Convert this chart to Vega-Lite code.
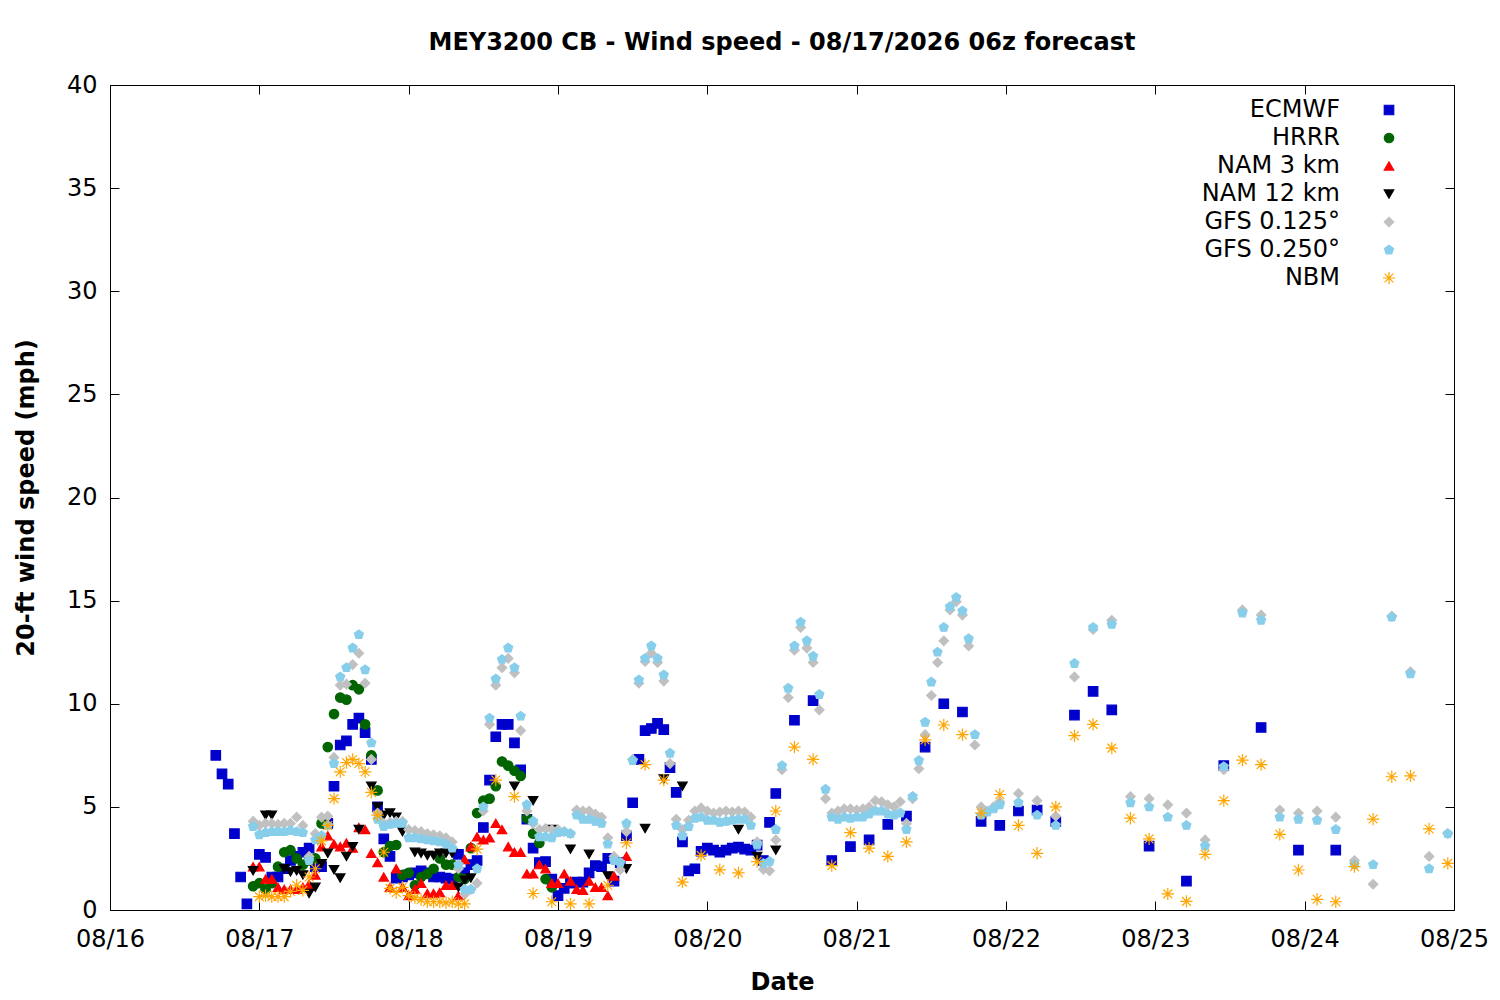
{
  "$schema": "https://vega.github.io/schema/vega-lite/v6.json",
  "width": 1344,
  "height": 825,
  "autosize": {"type": "none"},
  "padding": {"left": 110, "top": 85, "right": 46, "bottom": 90},
  "background": "white",
  "title": {
    "text": "MEY3200 CB - Wind speed - 08/17/2026 06z forecast",
    "font": "DejaVu Sans", "fontSize": 24, "fontWeight": "bold", "color": "black",
    "anchor": "middle", "offset": 18
  },
  "data": {"values": [
    {"m":"ECMWF","h":17,"v":7.5},{"m":"ECMWF","h":18,"v":6.6},{"m":"ECMWF","h":19,"v":6.1},{"m":"ECMWF","h":20,"v":3.7},
    {"m":"ECMWF","h":21,"v":1.6},{"m":"ECMWF","h":22,"v":0.3},{"m":"ECMWF","h":24,"v":2.7},{"m":"ECMWF","h":25,"v":2.55},
    {"m":"ECMWF","h":26,"v":1.6},{"m":"ECMWF","h":27,"v":1.6},{"m":"ECMWF","h":28,"v":2.0},{"m":"ECMWF","h":29,"v":2.4},
    {"m":"ECMWF","h":30,"v":2.6},{"m":"ECMWF","h":31,"v":2.8},{"m":"ECMWF","h":32,"v":3.0},{"m":"ECMWF","h":33,"v":2.1},
    {"m":"ECMWF","h":34,"v":2.1},{"m":"ECMWF","h":35,"v":4.2},{"m":"ECMWF","h":36,"v":6.0},{"m":"ECMWF","h":37,"v":8.0},
    {"m":"ECMWF","h":38,"v":8.2},{"m":"ECMWF","h":39,"v":9.0},{"m":"ECMWF","h":40,"v":9.3},{"m":"ECMWF","h":41,"v":8.6},
    {"m":"ECMWF","h":42,"v":7.3},{"m":"ECMWF","h":43,"v":5.0},{"m":"ECMWF","h":44,"v":3.45},{"m":"ECMWF","h":45,"v":2.6},
    {"m":"ECMWF","h":46,"v":1.55},{"m":"ECMWF","h":47,"v":1.6},{"m":"ECMWF","h":48,"v":1.7},{"m":"ECMWF","h":49,"v":1.8},
    {"m":"ECMWF","h":50,"v":1.9},{"m":"ECMWF","h":51,"v":1.8},{"m":"ECMWF","h":52,"v":1.6},{"m":"ECMWF","h":53,"v":1.6},
    {"m":"ECMWF","h":54,"v":1.55},{"m":"ECMWF","h":55,"v":1.5},{"m":"ECMWF","h":56,"v":2.7},{"m":"ECMWF","h":57,"v":1.8},
    {"m":"ECMWF","h":58,"v":2.2},{"m":"ECMWF","h":59,"v":2.4},{"m":"ECMWF","h":60,"v":4.0},{"m":"ECMWF","h":61,"v":6.3},
    {"m":"ECMWF","h":62,"v":8.4},{"m":"ECMWF","h":63,"v":9.0},{"m":"ECMWF","h":64,"v":9.0},{"m":"ECMWF","h":65,"v":8.1},
    {"m":"ECMWF","h":66,"v":6.8},{"m":"ECMWF","h":67,"v":4.4},{"m":"ECMWF","h":68,"v":3.0},{"m":"ECMWF","h":69,"v":2.3},
    {"m":"ECMWF","h":70,"v":2.35},{"m":"ECMWF","h":71,"v":1.5},{"m":"ECMWF","h":72,"v":0.7},{"m":"ECMWF","h":73,"v":1.05},
    {"m":"ECMWF","h":74,"v":1.3},{"m":"ECMWF","h":75,"v":1.35},{"m":"ECMWF","h":76,"v":1.35},{"m":"ECMWF","h":77,"v":1.8},
    {"m":"ECMWF","h":78,"v":2.15},{"m":"ECMWF","h":79,"v":2.1},{"m":"ECMWF","h":80,"v":2.5},{"m":"ECMWF","h":81,"v":1.4},
    {"m":"ECMWF","h":82,"v":2.3},{"m":"ECMWF","h":83,"v":3.6},{"m":"ECMWF","h":84,"v":5.2},{"m":"ECMWF","h":85,"v":7.3},
    {"m":"ECMWF","h":86,"v":8.7},{"m":"ECMWF","h":87,"v":8.8},{"m":"ECMWF","h":88,"v":9.05},{"m":"ECMWF","h":89,"v":8.75},
    {"m":"ECMWF","h":90,"v":6.9},{"m":"ECMWF","h":91,"v":5.7},{"m":"ECMWF","h":92,"v":3.3},{"m":"ECMWF","h":93,"v":1.9},
    {"m":"ECMWF","h":94,"v":2.0},{"m":"ECMWF","h":95,"v":2.85},{"m":"ECMWF","h":96,"v":3.0},{"m":"ECMWF","h":97,"v":2.9},
    {"m":"ECMWF","h":98,"v":2.8},{"m":"ECMWF","h":99,"v":2.9},{"m":"ECMWF","h":100,"v":3.0},{"m":"ECMWF","h":101,"v":3.05},
    {"m":"ECMWF","h":102,"v":2.95},{"m":"ECMWF","h":103,"v":2.9},{"m":"ECMWF","h":104,"v":3.15},{"m":"ECMWF","h":105,"v":2.4},
    {"m":"ECMWF","h":106,"v":4.25},{"m":"ECMWF","h":107,"v":5.65},{"m":"ECMWF","h":110,"v":9.2},{"m":"ECMWF","h":113,"v":10.15},
    {"m":"ECMWF","h":116,"v":2.4},{"m":"ECMWF","h":119,"v":3.07},{"m":"ECMWF","h":122,"v":3.4},{"m":"ECMWF","h":125,"v":4.15},
    {"m":"ECMWF","h":128,"v":4.55},{"m":"ECMWF","h":131,"v":7.9},{"m":"ECMWF","h":134,"v":10.0},{"m":"ECMWF","h":137,"v":9.6},
    {"m":"ECMWF","h":140,"v":4.3},{"m":"ECMWF","h":143,"v":4.1},{"m":"ECMWF","h":146,"v":4.8},{"m":"ECMWF","h":149,"v":4.85},
    {"m":"ECMWF","h":152,"v":4.3},{"m":"ECMWF","h":155,"v":9.45},{"m":"ECMWF","h":158,"v":10.6},{"m":"ECMWF","h":161,"v":9.7},
    {"m":"ECMWF","h":167,"v":3.1},{"m":"ECMWF","h":173,"v":1.4},{"m":"ECMWF","h":179,"v":7.0},{"m":"ECMWF","h":185,"v":8.85},
    {"m":"ECMWF","h":191,"v":2.9},{"m":"ECMWF","h":197,"v":2.9},

    {"m":"HRRR","h":23,"v":1.15},{"m":"HRRR","h":24,"v":1.3},{"m":"HRRR","h":25,"v":1.0},{"m":"HRRR","h":26,"v":1.3},
    {"m":"HRRR","h":27,"v":2.1},{"m":"HRRR","h":28,"v":2.8},{"m":"HRRR","h":29,"v":2.9},{"m":"HRRR","h":30,"v":2.5},
    {"m":"HRRR","h":31,"v":2.2},{"m":"HRRR","h":32,"v":2.4},{"m":"HRRR","h":33,"v":2.5},{"m":"HRRR","h":34,"v":4.2},
    {"m":"HRRR","h":35,"v":7.9},{"m":"HRRR","h":36,"v":9.5},{"m":"HRRR","h":37,"v":10.3},{"m":"HRRR","h":38,"v":10.2},
    {"m":"HRRR","h":39,"v":10.9},{"m":"HRRR","h":40,"v":10.7},{"m":"HRRR","h":41,"v":9.0},{"m":"HRRR","h":42,"v":7.5},
    {"m":"HRRR","h":43,"v":5.8},{"m":"HRRR","h":44,"v":2.8},{"m":"HRRR","h":45,"v":3.1},{"m":"HRRR","h":46,"v":3.15},
    {"m":"HRRR","h":47,"v":1.7},{"m":"HRRR","h":48,"v":1.8},{"m":"HRRR","h":49,"v":1.2},{"m":"HRRR","h":50,"v":1.6},
    {"m":"HRRR","h":51,"v":1.75},{"m":"HRRR","h":52,"v":2.0},{"m":"HRRR","h":53,"v":2.5},{"m":"HRRR","h":54,"v":2.2},
    {"m":"HRRR","h":55,"v":2.2},{"m":"HRRR","h":56,"v":1.6},{"m":"HRRR","h":57,"v":1.5},{"m":"HRRR","h":58,"v":3.0},
    {"m":"HRRR","h":59,"v":4.7},{"m":"HRRR","h":60,"v":5.3},{"m":"HRRR","h":61,"v":5.4},{"m":"HRRR","h":62,"v":6.0},
    {"m":"HRRR","h":63,"v":7.2},{"m":"HRRR","h":64,"v":7.0},{"m":"HRRR","h":65,"v":6.75},{"m":"HRRR","h":66,"v":6.5},
    {"m":"HRRR","h":67,"v":4.45},{"m":"HRRR","h":68,"v":3.7},{"m":"HRRR","h":69,"v":3.25},{"m":"HRRR","h":70,"v":1.5},
    {"m":"HRRR","h":71,"v":1.1},

    {"m":"NAM 3 km","h":23,"v":2.1},{"m":"NAM 3 km","h":24,"v":2.1},{"m":"NAM 3 km","h":25,"v":1.5},{"m":"NAM 3 km","h":26,"v":1.5},
    {"m":"NAM 3 km","h":27,"v":1.1},{"m":"NAM 3 km","h":28,"v":1.0},{"m":"NAM 3 km","h":29,"v":1.0},{"m":"NAM 3 km","h":30,"v":1.0},
    {"m":"NAM 3 km","h":31,"v":1.1},{"m":"NAM 3 km","h":32,"v":1.25},{"m":"NAM 3 km","h":33,"v":1.7},{"m":"NAM 3 km","h":34,"v":3.07},
    {"m":"NAM 3 km","h":35,"v":3.6},{"m":"NAM 3 km","h":36,"v":3.2},{"m":"NAM 3 km","h":37,"v":3.07},{"m":"NAM 3 km","h":38,"v":3.25},
    {"m":"NAM 3 km","h":39,"v":3.0},{"m":"NAM 3 km","h":40,"v":4.0},{"m":"NAM 3 km","h":41,"v":3.9},{"m":"NAM 3 km","h":42,"v":2.75},
    {"m":"NAM 3 km","h":43,"v":2.3},{"m":"NAM 3 km","h":44,"v":1.6},{"m":"NAM 3 km","h":45,"v":1.1},{"m":"NAM 3 km","h":46,"v":2.0},
    {"m":"NAM 3 km","h":47,"v":1.1},{"m":"NAM 3 km","h":48,"v":0.7},{"m":"NAM 3 km","h":49,"v":1.0},{"m":"NAM 3 km","h":50,"v":1.3},
    {"m":"NAM 3 km","h":51,"v":0.8},{"m":"NAM 3 km","h":52,"v":0.8},{"m":"NAM 3 km","h":53,"v":0.85},{"m":"NAM 3 km","h":54,"v":1.2},
    {"m":"NAM 3 km","h":55,"v":1.2},{"m":"NAM 3 km","h":56,"v":0.7},{"m":"NAM 3 km","h":57,"v":2.45},{"m":"NAM 3 km","h":58,"v":3.07},
    {"m":"NAM 3 km","h":59,"v":3.55},{"m":"NAM 3 km","h":60,"v":3.4},{"m":"NAM 3 km","h":61,"v":3.5},{"m":"NAM 3 km","h":62,"v":4.2},
    {"m":"NAM 3 km","h":63,"v":3.9},{"m":"NAM 3 km","h":64,"v":3.07},{"m":"NAM 3 km","h":65,"v":2.8},{"m":"NAM 3 km","h":66,"v":2.8},
    {"m":"NAM 3 km","h":67,"v":1.75},{"m":"NAM 3 km","h":68,"v":1.75},{"m":"NAM 3 km","h":69,"v":2.2},{"m":"NAM 3 km","h":70,"v":2.0},
    {"m":"NAM 3 km","h":71,"v":1.3},{"m":"NAM 3 km","h":72,"v":1.3},{"m":"NAM 3 km","h":73,"v":1.75},{"m":"NAM 3 km","h":74,"v":1.4},
    {"m":"NAM 3 km","h":75,"v":1.0},{"m":"NAM 3 km","h":76,"v":0.95},{"m":"NAM 3 km","h":77,"v":1.4},{"m":"NAM 3 km","h":78,"v":1.1},
    {"m":"NAM 3 km","h":79,"v":1.1},{"m":"NAM 3 km","h":80,"v":0.7},{"m":"NAM 3 km","h":81,"v":1.65},{"m":"NAM 3 km","h":83,"v":2.6},

    {"m":"NAM 12 km","h":23,"v":1.9},{"m":"NAM 12 km","h":25,"v":4.6},{"m":"NAM 12 km","h":26,"v":4.6},{"m":"NAM 12 km","h":28,"v":2.0},
    {"m":"NAM 12 km","h":29,"v":1.85},{"m":"NAM 12 km","h":30,"v":1.9},{"m":"NAM 12 km","h":31,"v":1.7},{"m":"NAM 12 km","h":32,"v":0.8},
    {"m":"NAM 12 km","h":33,"v":1.1},{"m":"NAM 12 km","h":34,"v":2.25},{"m":"NAM 12 km","h":35,"v":2.75},{"m":"NAM 12 km","h":36,"v":1.95},
    {"m":"NAM 12 km","h":37,"v":1.55},{"m":"NAM 12 km","h":38,"v":2.6},{"m":"NAM 12 km","h":39,"v":3.07},{"m":"NAM 12 km","h":40,"v":3.9},
    {"m":"NAM 12 km","h":42,"v":6.0},{"m":"NAM 12 km","h":43,"v":5.0},{"m":"NAM 12 km","h":44,"v":4.6},{"m":"NAM 12 km","h":45,"v":4.7},
    {"m":"NAM 12 km","h":46,"v":4.5},{"m":"NAM 12 km","h":47,"v":3.8},{"m":"NAM 12 km","h":49,"v":2.8},{"m":"NAM 12 km","h":50,"v":2.75},
    {"m":"NAM 12 km","h":51,"v":2.65},{"m":"NAM 12 km","h":52,"v":2.65},{"m":"NAM 12 km","h":53,"v":2.75},{"m":"NAM 12 km","h":54,"v":2.75},
    {"m":"NAM 12 km","h":55,"v":2.75},{"m":"NAM 12 km","h":56,"v":1.1},{"m":"NAM 12 km","h":57,"v":1.45},{"m":"NAM 12 km","h":58,"v":1.55},
    {"m":"NAM 12 km","h":65,"v":6.0},{"m":"NAM 12 km","h":68,"v":5.3},{"m":"NAM 12 km","h":71,"v":3.9},{"m":"NAM 12 km","h":74,"v":2.95},
    {"m":"NAM 12 km","h":77,"v":2.7},{"m":"NAM 12 km","h":80,"v":1.65},{"m":"NAM 12 km","h":83,"v":2.0},{"m":"NAM 12 km","h":86,"v":3.95},
    {"m":"NAM 12 km","h":89,"v":6.35},{"m":"NAM 12 km","h":92,"v":6.0},{"m":"NAM 12 km","h":101,"v":3.9},{"m":"NAM 12 km","h":104,"v":2.6},
    {"m":"NAM 12 km","h":107,"v":2.9},

    {"m":"GFS 0.125°","h":23,"v":4.3},{"m":"GFS 0.125°","h":24,"v":4.1},{"m":"GFS 0.125°","h":25,"v":4.2},{"m":"GFS 0.125°","h":26,"v":4.2},
    {"m":"GFS 0.125°","h":27,"v":4.15},{"m":"GFS 0.125°","h":28,"v":4.2},{"m":"GFS 0.125°","h":29,"v":4.2},{"m":"GFS 0.125°","h":30,"v":4.5},
    {"m":"GFS 0.125°","h":31,"v":4.1},{"m":"GFS 0.125°","h":32,"v":2.6},{"m":"GFS 0.125°","h":33,"v":3.7},{"m":"GFS 0.125°","h":34,"v":4.5},
    {"m":"GFS 0.125°","h":35,"v":4.55},{"m":"GFS 0.125°","h":36,"v":7.4},{"m":"GFS 0.125°","h":37,"v":10.9},{"m":"GFS 0.125°","h":38,"v":10.95},
    {"m":"GFS 0.125°","h":39,"v":11.9},{"m":"GFS 0.125°","h":40,"v":12.45},{"m":"GFS 0.125°","h":41,"v":11.0},{"m":"GFS 0.125°","h":42,"v":7.3},
    {"m":"GFS 0.125°","h":43,"v":4.7},{"m":"GFS 0.125°","h":44,"v":4.2},{"m":"GFS 0.125°","h":45,"v":4.25},{"m":"GFS 0.125°","h":46,"v":4.3},
    {"m":"GFS 0.125°","h":47,"v":4.3},{"m":"GFS 0.125°","h":48,"v":3.9},{"m":"GFS 0.125°","h":49,"v":3.85},{"m":"GFS 0.125°","h":50,"v":3.8},
    {"m":"GFS 0.125°","h":51,"v":3.7},{"m":"GFS 0.125°","h":52,"v":3.65},{"m":"GFS 0.125°","h":53,"v":3.6},{"m":"GFS 0.125°","h":54,"v":3.5},
    {"m":"GFS 0.125°","h":55,"v":3.3},{"m":"GFS 0.125°","h":56,"v":2.0},{"m":"GFS 0.125°","h":57,"v":0.75},{"m":"GFS 0.125°","h":58,"v":1.0},
    {"m":"GFS 0.125°","h":59,"v":1.3},{"m":"GFS 0.125°","h":60,"v":4.8},{"m":"GFS 0.125°","h":61,"v":9.0},{"m":"GFS 0.125°","h":62,"v":10.9},
    {"m":"GFS 0.125°","h":63,"v":11.75},{"m":"GFS 0.125°","h":64,"v":12.2},{"m":"GFS 0.125°","h":65,"v":11.5},{"m":"GFS 0.125°","h":66,"v":8.7},
    {"m":"GFS 0.125°","h":67,"v":4.8},{"m":"GFS 0.125°","h":68,"v":4.2},{"m":"GFS 0.125°","h":69,"v":3.9},{"m":"GFS 0.125°","h":70,"v":3.95},
    {"m":"GFS 0.125°","h":71,"v":3.9},{"m":"GFS 0.125°","h":72,"v":3.9},{"m":"GFS 0.125°","h":73,"v":3.8},{"m":"GFS 0.125°","h":74,"v":3.7},
    {"m":"GFS 0.125°","h":75,"v":4.85},{"m":"GFS 0.125°","h":76,"v":4.8},{"m":"GFS 0.125°","h":77,"v":4.8},{"m":"GFS 0.125°","h":78,"v":4.65},
    {"m":"GFS 0.125°","h":79,"v":4.5},{"m":"GFS 0.125°","h":80,"v":3.5},{"m":"GFS 0.125°","h":81,"v":2.6},{"m":"GFS 0.125°","h":82,"v":1.95},
    {"m":"GFS 0.125°","h":83,"v":3.8},{"m":"GFS 0.125°","h":84,"v":7.3},{"m":"GFS 0.125°","h":85,"v":11.0},{"m":"GFS 0.125°","h":86,"v":12.05},
    {"m":"GFS 0.125°","h":87,"v":12.45},{"m":"GFS 0.125°","h":88,"v":12.0},{"m":"GFS 0.125°","h":89,"v":11.1},{"m":"GFS 0.125°","h":90,"v":7.1},
    {"m":"GFS 0.125°","h":91,"v":4.4},{"m":"GFS 0.125°","h":92,"v":3.9},{"m":"GFS 0.125°","h":93,"v":4.35},{"m":"GFS 0.125°","h":94,"v":4.8},
    {"m":"GFS 0.125°","h":95,"v":4.95},{"m":"GFS 0.125°","h":96,"v":4.8},{"m":"GFS 0.125°","h":97,"v":4.7},{"m":"GFS 0.125°","h":98,"v":4.75},
    {"m":"GFS 0.125°","h":99,"v":4.8},{"m":"GFS 0.125°","h":100,"v":4.75},{"m":"GFS 0.125°","h":101,"v":4.8},{"m":"GFS 0.125°","h":102,"v":4.75},
    {"m":"GFS 0.125°","h":103,"v":4.5},{"m":"GFS 0.125°","h":104,"v":3.3},{"m":"GFS 0.125°","h":105,"v":1.97},{"m":"GFS 0.125°","h":106,"v":1.9},
    {"m":"GFS 0.125°","h":107,"v":3.4},{"m":"GFS 0.125°","h":108,"v":6.8},{"m":"GFS 0.125°","h":109,"v":10.3},{"m":"GFS 0.125°","h":110,"v":12.6},
    {"m":"GFS 0.125°","h":111,"v":13.7},{"m":"GFS 0.125°","h":112,"v":12.7},{"m":"GFS 0.125°","h":113,"v":12.0},{"m":"GFS 0.125°","h":114,"v":9.7},
    {"m":"GFS 0.125°","h":115,"v":5.4},{"m":"GFS 0.125°","h":116,"v":4.7},{"m":"GFS 0.125°","h":117,"v":4.8},{"m":"GFS 0.125°","h":118,"v":4.9},
    {"m":"GFS 0.125°","h":119,"v":4.9},{"m":"GFS 0.125°","h":120,"v":4.85},{"m":"GFS 0.125°","h":121,"v":4.9},{"m":"GFS 0.125°","h":122,"v":5.0},
    {"m":"GFS 0.125°","h":123,"v":5.3},{"m":"GFS 0.125°","h":124,"v":5.25},{"m":"GFS 0.125°","h":125,"v":5.1},{"m":"GFS 0.125°","h":126,"v":5.0},
    {"m":"GFS 0.125°","h":127,"v":5.25},{"m":"GFS 0.125°","h":128,"v":4.2},{"m":"GFS 0.125°","h":129,"v":5.4},{"m":"GFS 0.125°","h":130,"v":6.85},
    {"m":"GFS 0.125°","h":131,"v":8.5},{"m":"GFS 0.125°","h":132,"v":10.4},{"m":"GFS 0.125°","h":133,"v":12.0},{"m":"GFS 0.125°","h":134,"v":13.05},
    {"m":"GFS 0.125°","h":135,"v":14.55},{"m":"GFS 0.125°","h":136,"v":14.95},{"m":"GFS 0.125°","h":137,"v":14.3},{"m":"GFS 0.125°","h":138,"v":12.8},
    {"m":"GFS 0.125°","h":139,"v":8.0},{"m":"GFS 0.125°","h":140,"v":5.0},{"m":"GFS 0.125°","h":141,"v":4.8},{"m":"GFS 0.125°","h":142,"v":5.0},
    {"m":"GFS 0.125°","h":143,"v":5.25},{"m":"GFS 0.125°","h":146,"v":5.65},{"m":"GFS 0.125°","h":149,"v":5.3},{"m":"GFS 0.125°","h":152,"v":4.55},
    {"m":"GFS 0.125°","h":155,"v":11.3},{"m":"GFS 0.125°","h":158,"v":13.6},{"m":"GFS 0.125°","h":161,"v":14.05},{"m":"GFS 0.125°","h":164,"v":5.5},
    {"m":"GFS 0.125°","h":167,"v":5.4},{"m":"GFS 0.125°","h":170,"v":5.1},{"m":"GFS 0.125°","h":173,"v":4.7},{"m":"GFS 0.125°","h":176,"v":3.4},
    {"m":"GFS 0.125°","h":179,"v":6.8},{"m":"GFS 0.125°","h":182,"v":14.55},{"m":"GFS 0.125°","h":185,"v":14.3},{"m":"GFS 0.125°","h":188,"v":4.85},
    {"m":"GFS 0.125°","h":191,"v":4.7},{"m":"GFS 0.125°","h":194,"v":4.8},{"m":"GFS 0.125°","h":197,"v":4.5},{"m":"GFS 0.125°","h":200,"v":2.4},
    {"m":"GFS 0.125°","h":203,"v":1.25},{"m":"GFS 0.125°","h":206,"v":14.25},{"m":"GFS 0.125°","h":209,"v":11.55},{"m":"GFS 0.125°","h":212,"v":2.6},
    {"m":"GFS 0.125°","h":215,"v":3.7},

    {"m":"GFS 0.250°","h":23,"v":4.05},{"m":"GFS 0.250°","h":24,"v":3.65},{"m":"GFS 0.250°","h":25,"v":3.75},{"m":"GFS 0.250°","h":26,"v":3.8},
    {"m":"GFS 0.250°","h":27,"v":3.8},{"m":"GFS 0.250°","h":28,"v":3.8},{"m":"GFS 0.250°","h":29,"v":3.85},{"m":"GFS 0.250°","h":30,"v":3.8},
    {"m":"GFS 0.250°","h":31,"v":3.75},{"m":"GFS 0.250°","h":32,"v":2.4},{"m":"GFS 0.250°","h":33,"v":3.4},{"m":"GFS 0.250°","h":34,"v":3.6},
    {"m":"GFS 0.250°","h":35,"v":4.1},{"m":"GFS 0.250°","h":36,"v":7.1},{"m":"GFS 0.250°","h":37,"v":11.3},{"m":"GFS 0.250°","h":38,"v":11.75},
    {"m":"GFS 0.250°","h":39,"v":12.7},{"m":"GFS 0.250°","h":40,"v":13.35},{"m":"GFS 0.250°","h":41,"v":11.65},{"m":"GFS 0.250°","h":42,"v":8.1},
    {"m":"GFS 0.250°","h":43,"v":4.4},{"m":"GFS 0.250°","h":44,"v":4.05},{"m":"GFS 0.250°","h":45,"v":4.15},{"m":"GFS 0.250°","h":46,"v":4.2},
    {"m":"GFS 0.250°","h":47,"v":4.2},{"m":"GFS 0.250°","h":48,"v":3.5},{"m":"GFS 0.250°","h":49,"v":3.5},{"m":"GFS 0.250°","h":50,"v":3.45},
    {"m":"GFS 0.250°","h":51,"v":3.4},{"m":"GFS 0.250°","h":52,"v":3.35},{"m":"GFS 0.250°","h":53,"v":3.3},{"m":"GFS 0.250°","h":54,"v":3.2},
    {"m":"GFS 0.250°","h":55,"v":3.0},{"m":"GFS 0.250°","h":56,"v":2.2},{"m":"GFS 0.250°","h":57,"v":1.0},{"m":"GFS 0.250°","h":58,"v":1.0},
    {"m":"GFS 0.250°","h":59,"v":2.0},{"m":"GFS 0.250°","h":60,"v":5.0},{"m":"GFS 0.250°","h":61,"v":9.3},{"m":"GFS 0.250°","h":62,"v":11.2},
    {"m":"GFS 0.250°","h":63,"v":12.15},{"m":"GFS 0.250°","h":64,"v":12.7},{"m":"GFS 0.250°","h":65,"v":11.75},{"m":"GFS 0.250°","h":66,"v":9.4},
    {"m":"GFS 0.250°","h":67,"v":5.1},{"m":"GFS 0.250°","h":68,"v":4.3},{"m":"GFS 0.250°","h":69,"v":3.55},{"m":"GFS 0.250°","h":70,"v":3.55},
    {"m":"GFS 0.250°","h":71,"v":3.5},{"m":"GFS 0.250°","h":72,"v":3.75},{"m":"GFS 0.250°","h":73,"v":3.8},{"m":"GFS 0.250°","h":74,"v":3.7},
    {"m":"GFS 0.250°","h":75,"v":4.6},{"m":"GFS 0.250°","h":76,"v":4.4},{"m":"GFS 0.250°","h":77,"v":4.4},{"m":"GFS 0.250°","h":78,"v":4.3},
    {"m":"GFS 0.250°","h":79,"v":4.2},{"m":"GFS 0.250°","h":80,"v":3.2},{"m":"GFS 0.250°","h":81,"v":2.4},{"m":"GFS 0.250°","h":82,"v":2.3},
    {"m":"GFS 0.250°","h":83,"v":4.2},{"m":"GFS 0.250°","h":84,"v":7.25},{"m":"GFS 0.250°","h":85,"v":11.15},{"m":"GFS 0.250°","h":86,"v":12.2},
    {"m":"GFS 0.250°","h":87,"v":12.8},{"m":"GFS 0.250°","h":88,"v":12.2},{"m":"GFS 0.250°","h":89,"v":11.4},{"m":"GFS 0.250°","h":90,"v":7.6},
    {"m":"GFS 0.250°","h":91,"v":4.1},{"m":"GFS 0.250°","h":92,"v":3.6},{"m":"GFS 0.250°","h":93,"v":4.05},{"m":"GFS 0.250°","h":94,"v":4.45},
    {"m":"GFS 0.250°","h":95,"v":4.5},{"m":"GFS 0.250°","h":96,"v":4.35},{"m":"GFS 0.250°","h":97,"v":4.35},{"m":"GFS 0.250°","h":98,"v":4.25},
    {"m":"GFS 0.250°","h":99,"v":4.3},{"m":"GFS 0.250°","h":100,"v":4.35},{"m":"GFS 0.250°","h":101,"v":4.4},{"m":"GFS 0.250°","h":102,"v":4.4},
    {"m":"GFS 0.250°","h":103,"v":4.1},{"m":"GFS 0.250°","h":104,"v":3.15},{"m":"GFS 0.250°","h":105,"v":2.25},{"m":"GFS 0.250°","h":106,"v":2.35},
    {"m":"GFS 0.250°","h":107,"v":3.9},{"m":"GFS 0.250°","h":108,"v":7.0},{"m":"GFS 0.250°","h":109,"v":10.75},{"m":"GFS 0.250°","h":110,"v":12.8},
    {"m":"GFS 0.250°","h":111,"v":13.95},{"m":"GFS 0.250°","h":112,"v":13.05},{"m":"GFS 0.250°","h":113,"v":12.3},{"m":"GFS 0.250°","h":114,"v":10.45},
    {"m":"GFS 0.250°","h":115,"v":5.85},{"m":"GFS 0.250°","h":116,"v":4.5},{"m":"GFS 0.250°","h":117,"v":4.4},{"m":"GFS 0.250°","h":118,"v":4.5},
    {"m":"GFS 0.250°","h":119,"v":4.45},{"m":"GFS 0.250°","h":120,"v":4.5},{"m":"GFS 0.250°","h":121,"v":4.5},{"m":"GFS 0.250°","h":122,"v":4.65},
    {"m":"GFS 0.250°","h":123,"v":4.8},{"m":"GFS 0.250°","h":124,"v":4.8},{"m":"GFS 0.250°","h":125,"v":4.65},{"m":"GFS 0.250°","h":126,"v":4.6},
    {"m":"GFS 0.250°","h":127,"v":4.7},{"m":"GFS 0.250°","h":128,"v":3.9},{"m":"GFS 0.250°","h":129,"v":5.5},{"m":"GFS 0.250°","h":130,"v":7.25},
    {"m":"GFS 0.250°","h":131,"v":9.1},{"m":"GFS 0.250°","h":132,"v":11.05},{"m":"GFS 0.250°","h":133,"v":12.5},{"m":"GFS 0.250°","h":134,"v":13.7},
    {"m":"GFS 0.250°","h":135,"v":14.7},{"m":"GFS 0.250°","h":136,"v":15.15},{"m":"GFS 0.250°","h":137,"v":14.5},{"m":"GFS 0.250°","h":138,"v":13.15},
    {"m":"GFS 0.250°","h":139,"v":8.5},{"m":"GFS 0.250°","h":140,"v":4.6},{"m":"GFS 0.250°","h":141,"v":4.75},{"m":"GFS 0.250°","h":142,"v":4.9},
    {"m":"GFS 0.250°","h":143,"v":5.1},{"m":"GFS 0.250°","h":146,"v":5.2},{"m":"GFS 0.250°","h":149,"v":4.6},{"m":"GFS 0.250°","h":152,"v":4.1},
    {"m":"GFS 0.250°","h":155,"v":11.95},{"m":"GFS 0.250°","h":158,"v":13.7},{"m":"GFS 0.250°","h":161,"v":13.85},{"m":"GFS 0.250°","h":164,"v":5.2},
    {"m":"GFS 0.250°","h":167,"v":5.0},{"m":"GFS 0.250°","h":170,"v":4.5},{"m":"GFS 0.250°","h":173,"v":4.1},{"m":"GFS 0.250°","h":176,"v":3.1},
    {"m":"GFS 0.250°","h":179,"v":6.95},{"m":"GFS 0.250°","h":182,"v":14.4},{"m":"GFS 0.250°","h":185,"v":14.05},{"m":"GFS 0.250°","h":188,"v":4.5},
    {"m":"GFS 0.250°","h":191,"v":4.4},{"m":"GFS 0.250°","h":194,"v":4.35},{"m":"GFS 0.250°","h":197,"v":3.9},{"m":"GFS 0.250°","h":200,"v":2.2},
    {"m":"GFS 0.250°","h":203,"v":2.2},{"m":"GFS 0.250°","h":206,"v":14.2},{"m":"GFS 0.250°","h":209,"v":11.45},{"m":"GFS 0.250°","h":212,"v":2.0},
    {"m":"GFS 0.250°","h":215,"v":3.7},

    {"m":"NBM","h":24,"v":0.65},{"m":"NBM","h":25,"v":0.7},{"m":"NBM","h":26,"v":0.65},{"m":"NBM","h":27,"v":0.65},
    {"m":"NBM","h":28,"v":0.65},{"m":"NBM","h":29,"v":0.9},{"m":"NBM","h":30,"v":1.2},{"m":"NBM","h":31,"v":0.95},
    {"m":"NBM","h":32,"v":1.6},{"m":"NBM","h":33,"v":2.0},{"m":"NBM","h":34,"v":3.35},{"m":"NBM","h":35,"v":4.1},
    {"m":"NBM","h":36,"v":5.4},{"m":"NBM","h":37,"v":6.7},{"m":"NBM","h":38,"v":7.15},{"m":"NBM","h":39,"v":7.3},
    {"m":"NBM","h":40,"v":7.1},{"m":"NBM","h":41,"v":6.7},{"m":"NBM","h":42,"v":5.7},{"m":"NBM","h":43,"v":4.6},
    {"m":"NBM","h":44,"v":2.8},{"m":"NBM","h":45,"v":1.05},{"m":"NBM","h":46,"v":0.85},{"m":"NBM","h":47,"v":1.1},
    {"m":"NBM","h":48,"v":0.7},{"m":"NBM","h":49,"v":0.6},{"m":"NBM","h":50,"v":0.5},{"m":"NBM","h":51,"v":0.4},
    {"m":"NBM","h":52,"v":0.4},{"m":"NBM","h":53,"v":0.4},{"m":"NBM","h":54,"v":0.35},{"m":"NBM","h":55,"v":0.4},
    {"m":"NBM","h":56,"v":0.3},{"m":"NBM","h":57,"v":0.3},{"m":"NBM","h":59,"v":2.95},{"m":"NBM","h":62,"v":6.3},
    {"m":"NBM","h":65,"v":5.5},{"m":"NBM","h":68,"v":0.8},{"m":"NBM","h":71,"v":0.4},{"m":"NBM","h":74,"v":0.3},
    {"m":"NBM","h":77,"v":0.3},{"m":"NBM","h":80,"v":1.2},{"m":"NBM","h":83,"v":3.25},{"m":"NBM","h":86,"v":7.05},
    {"m":"NBM","h":89,"v":6.3},{"m":"NBM","h":92,"v":1.35},{"m":"NBM","h":95,"v":2.65},{"m":"NBM","h":98,"v":1.95},
    {"m":"NBM","h":101,"v":1.8},{"m":"NBM","h":104,"v":2.35},{"m":"NBM","h":107,"v":4.8},{"m":"NBM","h":110,"v":7.9},
    {"m":"NBM","h":113,"v":7.3},{"m":"NBM","h":116,"v":2.15},{"m":"NBM","h":119,"v":3.75},{"m":"NBM","h":122,"v":3.0},
    {"m":"NBM","h":125,"v":2.6},{"m":"NBM","h":128,"v":3.3},{"m":"NBM","h":131,"v":8.25},{"m":"NBM","h":134,"v":8.97},
    {"m":"NBM","h":137,"v":8.5},{"m":"NBM","h":140,"v":4.7},{"m":"NBM","h":143,"v":5.6},{"m":"NBM","h":146,"v":4.1},
    {"m":"NBM","h":149,"v":2.75},{"m":"NBM","h":152,"v":5.0},{"m":"NBM","h":155,"v":8.45},{"m":"NBM","h":158,"v":9.0},
    {"m":"NBM","h":161,"v":7.85},{"m":"NBM","h":164,"v":4.45},{"m":"NBM","h":167,"v":3.45},{"m":"NBM","h":170,"v":0.78},
    {"m":"NBM","h":173,"v":0.42},{"m":"NBM","h":176,"v":2.7},{"m":"NBM","h":179,"v":5.3},{"m":"NBM","h":182,"v":7.27},
    {"m":"NBM","h":185,"v":7.05},{"m":"NBM","h":188,"v":3.67},{"m":"NBM","h":191,"v":1.94},{"m":"NBM","h":194,"v":0.52},
    {"m":"NBM","h":197,"v":0.4},{"m":"NBM","h":200,"v":2.1},{"m":"NBM","h":203,"v":4.41},{"m":"NBM","h":206,"v":6.46},
    {"m":"NBM","h":209,"v":6.5},{"m":"NBM","h":212,"v":3.93},{"m":"NBM","h":215,"v":2.26}
  ]},
  "layer": [
    {
      "mark": {"type": "point", "filled": true, "size": 90, "strokeWidth": 1.2, "opacity": 1},
      "encoding": {
        "x": {
          "field": "h", "type": "quantitative",
          "scale": {"domain": [0, 216], "nice": false, "zero": false},
          "axis": {
            "title": "Date", "values": [0, 24, 48, 72, 96, 120, 144, 168, 192, 216],
            "labelExpr": "['08/16','08/17','08/18','08/19','08/20','08/21','08/22','08/23','08/24','08/25'][round(datum.value/24)]",
            "grid": false, "domain": false, "tickSize": -9, "tickColor": "black",
            "labelPadding": 26, "labelFontSize": 24, "labelFont": "DejaVu Sans", "labelColor": "black",
            "titleFontSize": 24, "titleFont": "DejaVu Sans", "titleFontWeight": "bold", "titleColor": "black",
            "titlePadding": 19, "labelFlush": false
          }
        },
        "y": {
          "field": "v", "type": "quantitative",
          "scale": {"domain": [0, 40], "nice": false},
          "axis": {
            "title": "20-ft wind speed (mph)", "values": [0, 5, 10, 15, 20, 25, 30, 35, 40],
            "grid": false, "domain": false, "tickSize": -9, "tickColor": "black",
            "labelPadding": 22, "labelFontSize": 24, "labelFont": "DejaVu Sans", "labelColor": "black",
            "titleFontSize": 24, "titleFont": "DejaVu Sans", "titleFontWeight": "bold", "titleColor": "black",
            "titlePadding": 28
          }
        },
        "color": {
          "field": "m", "type": "nominal",
          "scale": {
            "domain": ["ECMWF", "HRRR", "NAM 3 km", "NAM 12 km", "GFS 0.125°", "GFS 0.250°", "NBM"],
            "range": ["#0000cc", "#006400", "#ff0000", "#000000", "#c0c0c0", "#87ceeb", "#ffa500"]
          },
          "legend": {
            "title": null, "orient": "none", "legendX": 1267, "legendY": 13,
            "labelAlign": "right", "labelOffset": -61, "labelFontSize": 24, "labelFont": "DejaVu Sans",
            "labelColor": "black", "rowPadding": 4, "padding": 0, "symbolSize": 90, "symbolStrokeWidth": 1.2,
            "labelLimit": 400
          }
        },
        "stroke": {
          "field": "m", "type": "nominal",
          "scale": {
            "domain": ["ECMWF", "HRRR", "NAM 3 km", "NAM 12 km", "GFS 0.125°", "GFS 0.250°", "NBM"],
            "range": ["#0000cc", "#006400", "#ff0000", "#000000", "#c0c0c0", "#87ceeb", "#ffa500"]
          }
        },
        "shape": {
          "field": "m", "type": "nominal",
          "scale": {
            "domain": ["ECMWF", "HRRR", "NAM 3 km", "NAM 12 km", "GFS 0.125°", "GFS 0.250°", "NBM"],
            "range": ["square", "circle", "triangle-up", "triangle-down", "diamond",
              "M0,-1L0.951,-0.309L0.588,0.809L-0.588,0.809L-0.951,-0.309Z",
              "M0,-1.3L0,1.3M-1.3,0L1.3,0M-0.92,-0.92L0.92,0.92M-0.92,0.92L0.92,-0.92"]
          }
        }
      }
    },
    {
      "mark": {"type": "point", "opacity": 0},
      "encoding": {
        "x": {
          "field": "h", "type": "quantitative",
          "scale": {"domain": [0, 216], "nice": false, "zero": false},
          "axis": {"orient": "top", "title": null, "labels": false, "values": [0, 24, 48, 72, 96, 120, 144, 168, 192, 216],
            "grid": false, "domain": false, "tickSize": -9, "tickColor": "black"}
        },
        "y": {
          "field": "v", "type": "quantitative",
          "scale": {"domain": [0, 40], "nice": false},
          "axis": {"orient": "right", "title": null, "labels": false, "values": [0, 5, 10, 15, 20, 25, 30, 35, 40],
            "grid": false, "domain": false, "tickSize": -9, "tickColor": "black"}
        }
      }
    }
  ],
  "resolve": {"axis": {"x": "independent", "y": "independent"}},
  "config": {
    "view": {"stroke": "black", "strokeWidth": 1},
    "font": "DejaVu Sans"
  }
}
